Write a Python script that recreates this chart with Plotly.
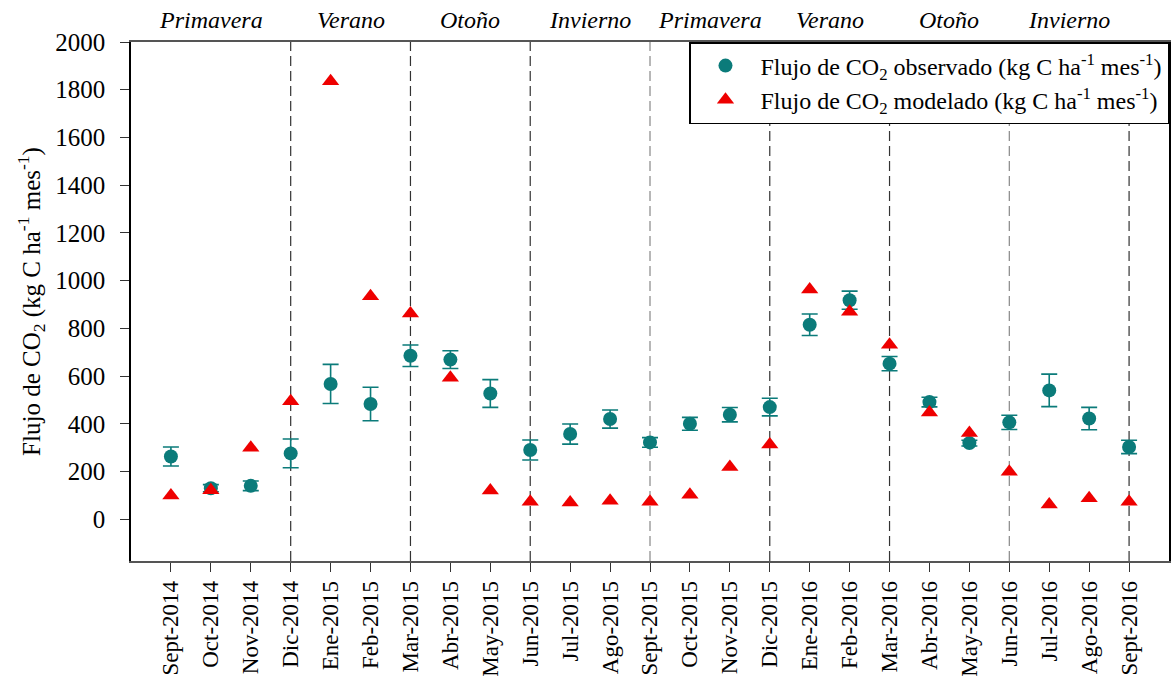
import plotly.graph_objects as go

months = ["Sept-2014", "Oct-2014", "Nov-2014", "Dic-2014", "Ene-2015", "Feb-2015",
          "Mar-2015", "Abr-2015", "May-2015", "Jun-2015", "Jul-2015", "Ago-2015",
          "Sept-2015", "Oct-2015", "Nov-2015", "Dic-2015", "Ene-2016", "Feb-2016",
          "Mar-2016", "Abr-2016", "May-2016", "Jun-2016", "Jul-2016", "Ago-2016",
          "Sept-2016"]
observed = [263, 130, 140, 276, 567, 483, 685, 669, 527, 290, 357, 420,
            322, 400, 438, 470, 815, 918, 652, 491, 319, 406, 540, 422, 303]
observed_err = [40, 15, 20, 60, 82, 70, 45, 37, 58, 42, 42, 38,
                20, 27, 30, 37, 45, 38, 30, 20, 12, 30, 68, 47, 28]
modeled = [100, 122, 300, 494, 1836, 935, 862, 593, 120, 73, 70, 77,
           73, 103, 219, 313, 963, 870, 731, 447, 361, 199, 62, 88, 73]

season_breaks = ["Dic-2014", "Mar-2015", "Jun-2015", "Sept-2015",
                 "Dic-2015", "Mar-2016", "Jun-2016", "Sept-2016"]
season_names = ["Primavera", "Verano", "Otoño", "Invierno",
                "Primavera", "Verano", "Otoño", "Invierno"]
y_ticks = [0, 200, 400, 600, 800, 1000, 1200, 1400, 1600, 1800, 2000]

label_obs = "Flujo de CO<sub>2</sub> observado (kg C ha<sup>-1</sup> mes<sup>-1</sup>)"
label_mod = "Flujo de CO<sub>2</sub> modelado (kg C ha<sup>-1</sup> mes<sup>-1</sup>)"
y_title = "Flujo de CO<sub>2</sub> (kg C ha<sup>-1</sup> mes<sup>-1</sup>)"

FONT = "Liberation Serif, Times New Roman, serif"
TEAL = "#0b7b7a"
RED = "#ee0000"

fig = go.Figure()
fig.add_trace(go.Scatter(
    x=months, y=observed, mode="markers", name=label_obs,
    marker=dict(symbol="circle", size=14, color=TEAL),
    error_y=dict(type="data", array=observed_err, visible=True,
                 color=TEAL, thickness=1.6, width=8),
))
fig.add_trace(go.Scatter(
    x=months, y=modeled, mode="markers", name=label_mod,
    marker=dict(symbol="triangle-up", size=15, color=RED),
))

# dashed season dividers
line_colors = ["#333", "#333", "#333", "#888", "#333", "#333", "#888", "#333"]
for name, col in zip(season_breaks, line_colors):
    idx = months.index(name)
    fig.add_shape(type="line", xref="x", yref="paper", x0=idx, x1=idx, y0=0, y1=1,
                  line=dict(color=col, width=1.2, dash="10px,5px"), layer="below")

# season labels centred between dividers
bounds = [-1] + [months.index(b) for b in season_breaks]
for i, s in enumerate(season_names):
    xc = (bounds[i] + bounds[i + 1]) / 2
    fig.add_annotation(x=xc, xref="x", y=1.042, yref="paper", text=f"<i>{s}</i>",
                       showarrow=False, xanchor="center", yanchor="middle",
                       font=dict(family=FONT, size=24, color="black"))

fig.update_layout(
    width=1173, height=679,
    margin=dict(l=131, r=2, t=42, b=117),
    paper_bgcolor="white", plot_bgcolor="white",
    font=dict(family=FONT, color="black"),
    showlegend=True,
    legend=dict(x=1, y=1, xanchor="right", yanchor="top",
                bgcolor="white", bordercolor="black", borderwidth=1.5,
                font=dict(family=FONT, size=24, color="black"),
                itemwidth=60, tracegroupgap=0),
)
fig.update_xaxes(
    type="category", range=[-1, 25], tickangle=-90,
    showline=True, linecolor="#555", linewidth=1.5, mirror=True,
    ticks="outside", ticklen=9, tickcolor="#333", tickwidth=1.2,
    showgrid=False, zeroline=False,
    tickfont=dict(family=FONT, size=23, color="black"),
)
fig.update_yaxes(
    range=[-175, 2000], tickvals=y_ticks,
    showline=True, linecolor="black", linewidth=1.5, mirror=True,
    ticks="outside", ticklen=9, tickcolor="#333", tickwidth=1.2,
    showgrid=False, zeroline=False, ticklabelstandoff=10,
    tickfont=dict(family=FONT, size=25, color="black"),
    title=dict(text=y_title, font=dict(family=FONT, size=25, color="black"), standoff=8),
)

fig.write_html("out.html")
